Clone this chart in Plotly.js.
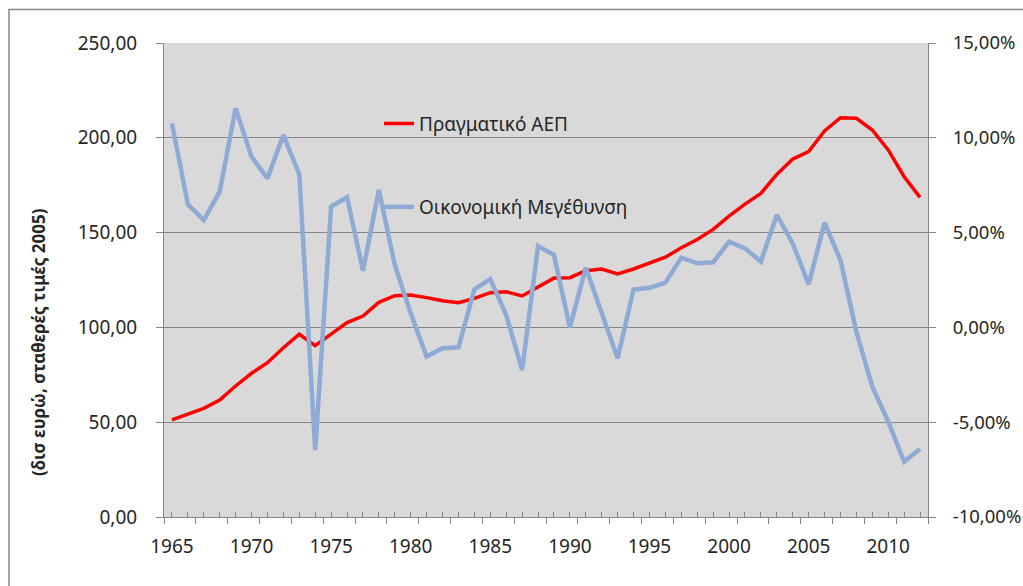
<!DOCTYPE html>
<html>
<head>
<meta charset="utf-8">
<script src="https://cdn.plot.ly/plotly-3.0.1.min.js"></script>
<style>
  html, body { margin: 0; padding: 0; background: #ffffff; }
  #chart { width: 1023px; height: 586px; }
</style>
</head>
<body>
<div id="chart"></div>
<script>
// Years (categories)
const years = [1965,1966,1967,1968,1969,1970,1971,1972,1973,1974,1975,1976,1977,1978,1979,
  1980,1981,1982,1983,1984,1985,1986,1987,1988,1989,1990,1991,1992,1993,1994,1995,1996,
  1997,1998,1999,2000,2001,2002,2003,2004,2005,2006,2007,2008,2009,2010,2011,2012];

// Real GDP (bn euro, constant 2005 prices) - left axis
const realGDP = [51.2,54.2,57.3,61.7,69.1,75.8,81.4,89.3,96.4,90.4,96.7,102.5,106.0,113.2,116.7,
  117.1,115.7,114.1,113.0,115.3,118.3,118.8,116.6,121.1,126.0,126.2,129.9,130.8,128.2,130.8,
  133.8,137.0,142.0,146.4,151.7,158.7,165.0,170.7,180.7,188.8,192.7,203.6,210.6,210.3,204.1,
  193.6,179.5,168.6];

// Economic growth (fraction) - right axis
const growth = [0.1076,0.0649,0.0566,0.0716,0.1155,0.0900,0.0786,0.1015,0.0807,-0.0647,0.0637,
  0.0686,0.0299,0.0725,0.0329,0.0074,-0.0154,-0.0110,-0.0105,0.0200,0.0255,0.0065,-0.0225,
  0.0429,0.0382,0.0000,0.0315,0.0074,-0.0163,0.0200,0.0209,0.0236,0.0368,0.0338,0.0343,
  0.0452,0.0417,0.0347,0.0593,0.0443,0.0227,0.0552,0.0355,-0.0023,-0.0313,-0.0497,-0.0708,
  -0.0641];

// Axis ticks and labels
const xTickYears = [1965,1970,1975,1980,1985,1990,1995,2000,2005,2010];
const leftTicks = [0,50,100,150,200,250];
const rightTicks = [-0.10,-0.05,0,0.05,0.10,0.15];
const rightTickText = ["-10,00%","-5,00%","0,00%","5,00%","10,00%","15,00%"];

const seriesNames = ["Πραγματικό ΑΕΠ", "Οικονομική Μεγέθυνση"];
const yTitle = "(δισ ευρώ, σταθερές τιμές 2005)";

const FONT = "Noto Sans, Open Sans, DejaVu Sans, sans-serif";
const TXT = "#262626";
const AXC = "#868686";
const xr = [years[0] - 0.5, years[years.length - 1] + 0.5];

const traces = [
  {
    x: years, y: realGDP, name: seriesNames[0], type: "scatter", mode: "lines",
    line: { color: "#ff0000", width: 3.5 }, xaxis: "x", yaxis: "y", legend: "legend",
    hoverinfo: "x+y"
  },
  {
    x: years, y: growth, name: seriesNames[1], type: "scatter", mode: "lines",
    line: { color: "#8eaad5", width: 4.5 }, xaxis: "x", yaxis: "y2", legend: "legend2",
    hoverinfo: "x+y"
  },
  {
    // carrier for the tick-mark axis (no visible marks)
    x: [], y: [], xaxis: "x2", yaxis: "y", type: "scatter", mode: "lines",
    showlegend: false, hoverinfo: "skip"
  }
];

const layout = {
  width: 1023, height: 586,
  margin: { l: 164, r: 95, t: 43, b: 69, pad: 0 },
  paper_bgcolor: "#ffffff",
  plot_bgcolor: "#d9d9d9",
  separators: ",.",
  font: { family: FONT, size: 19, color: TXT },
  showlegend: true,
  xaxis: {
    range: xr, tickmode: "array", tickvals: xTickYears, ticktext: xTickYears.map(String),
    ticks: "", showgrid: false, zeroline: false,
    showline: true, linecolor: AXC, linewidth: 1,
    ticklabelstandoff: 12,
    tickfont: { family: FONT, size: 19, color: TXT }
  },
  xaxis2: {
    overlaying: "x", anchor: "y", side: "bottom", range: xr,
    tickmode: "linear", tick0: years[0] - 0.5, dtick: 2,
    ticks: "outside", ticklen: 6, tickcolor: AXC, tickwidth: 1,
    minor: { ticks: "inside", dtick: 1, ticklen: 5, tickcolor: AXC, tickwidth: 1, showgrid: false },
    showticklabels: false, showgrid: false, zeroline: false, showline: false
  },
  yaxis: {
    range: [0, 250], tickmode: "array", tickvals: leftTicks, tickformat: ".2f",
    ticks: "outside", ticklen: 7, tickcolor: AXC,
    showgrid: true, gridcolor: AXC, gridwidth: 1, zeroline: false,
    showline: true, linecolor: AXC, linewidth: 1,
    ticklabelstandoff: 15,
    tickfont: { family: FONT, size: 19, color: TXT }
  },
  yaxis2: {
    overlaying: "y", side: "right", anchor: "x",
    range: [-0.10, 0.15], tickmode: "array", tickvals: rightTicks, ticktext: rightTickText,
    ticks: "outside", ticklen: 7, tickcolor: AXC,
    showgrid: false, zeroline: false,
    showline: true, linecolor: AXC, linewidth: 1,
    ticklabelstandoff: 13,
    tickfont: { family: FONT, size: 18.5, color: TXT }
  },
  legend: {
    x: 0.2814, xanchor: "left", y: 0.830, yanchor: "middle",
    bgcolor: "rgba(0,0,0,0)", borderwidth: 0,
    font: { family: FONT, size: 19, color: TXT }
  },
  legend2: {
    x: 0.2814, xanchor: "left", y: 0.654, yanchor: "middle",
    bgcolor: "rgba(0,0,0,0)", borderwidth: 0,
    font: { family: FONT, size: 19, color: TXT }
  },
  annotations: [
    {
      text: "<b>" + yTitle + "</b>", textangle: -90,
      xref: "paper", yref: "paper", x: -0.165, y: 0.369,
      xanchor: "center", yanchor: "middle", showarrow: false,
      font: { family: FONT, size: 17, color: TXT }
    }
  ],
  shapes: [
    {
      type: "rect", xref: "paper", yref: "paper",
      x0: -0.2029, x1: 1.3, y0: -0.4, y1: 1.0707,
      line: { color: AXC, width: 1.5 }, fillcolor: "rgba(0,0,0,0)", layer: "below"
    }
  ]
};

Plotly.newPlot("chart", traces, layout, { displayModeBar: false, staticPlot: true });
</script>
</body>
</html>
